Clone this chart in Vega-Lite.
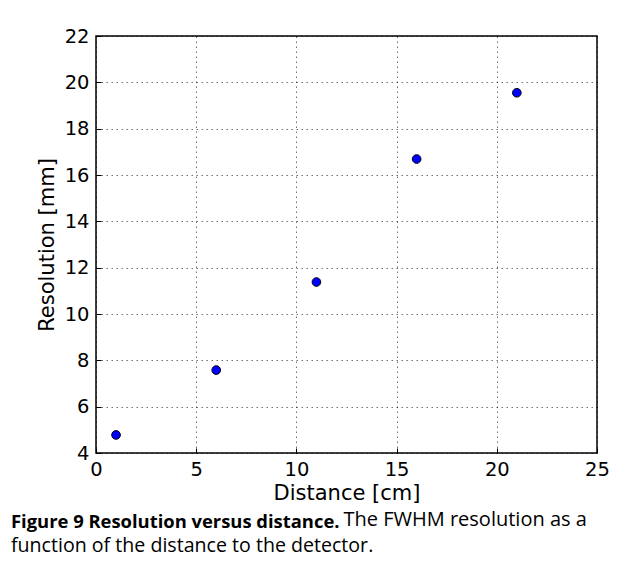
{
  "$schema": "https://vega.github.io/schema/vega-lite/v6.json",
  "width": 501,
  "height": 417,
  "autosize": {"type": "none"},
  "padding": {"left": 96, "top": 36, "right": 27, "bottom": 121},
  "background": "white",
  "data": {"values": [
    {"distance": 1, "resolution": 4.78},
    {"distance": 6, "resolution": 7.58},
    {"distance": 11, "resolution": 11.38},
    {"distance": 16, "resolution": 16.69},
    {"distance": 21, "resolution": 19.55}
  ]},
  "title": {
    "text": "Figure 9 Resolution versus distance.",
    "subtitle": "function of the distance to the detector.",
    "orient": "bottom",
    "anchor": "start",
    "frame": "group",
    "dx": -85,
    "offset": -16,
    "font": "Open Sans",
    "fontSize": 18.4,
    "fontWeight": "bold",
    "color": "black",
    "subtitleFont": "Open Sans",
    "subtitleFontSize": 19.6,
    "subtitleColor": "black",
    "subtitlePadding": 6
  },
  "layer": [
    {
      "mark": {"type": "point", "filled": true, "fill": "#0000ff", "stroke": "black", "strokeWidth": 1, "size": 75, "opacity": 1},
      "encoding": {
        "x": {"field": "distance", "type": "quantitative", "scale": {"domain": [0, 25], "nice": false},
          "axis": {"title": "Distance [cm]", "values": [0, 5, 10, 15, 20, 25], "orient": "bottom", "titlePadding": 4}},
        "y": {"field": "resolution", "type": "quantitative", "scale": {"domain": [4, 22], "nice": false, "zero": false},
          "axis": {"title": "Resolution [mm]", "values": [4, 6, 8, 10, 12, 14, 16, 18, 20, 22], "titlePadding": 7}}
      }
    },
    {
      "mark": {"type": "point", "opacity": 0},
      "encoding": {
        "x": {"field": "distance", "type": "quantitative",
          "axis": {"orient": "bottom", "title": "The FWHM resolution as a", "labels": false, "ticks": false, "grid": false, "domain": false,
            "titleX": 247, "titleY": 72, "titleAlign": "left", "titleAnchor": "start", "titleBaseline": "alphabetic",
            "titleFont": "Open Sans", "titleFontSize": 20, "titleFontWeight": "normal", "titlePadding": 0}}
      }
    }
  ],
  "resolve": {"axis": {"x": "independent"}},
  "config": {
    "view": {"stroke": "black", "strokeWidth": 1.5},
    "axis": {
      "domain": false,
      "grid": true,
      "gridColor": "black",
      "gridDash": [1.5, 3.5],
      "gridWidth": 0.8,
      "gridOpacity": 0.7,
      "ticks": true,
      "tickSize": -5,
      "tickColor": "black",
      "tickWidth": 1,
      "labelFont": "DejaVu Sans",
      "labelFontSize": 19.5,
      "labelColor": "black",
      "labelPadding": 12,
      "titleFont": "DejaVu Sans",
      "titleFontSize": 21,
      "titleFontWeight": "normal",
      "titleColor": "black"
    },
    "axisX": {"labelFlush": false},
    "axisY": {"labelFlush": false}
  }
}
